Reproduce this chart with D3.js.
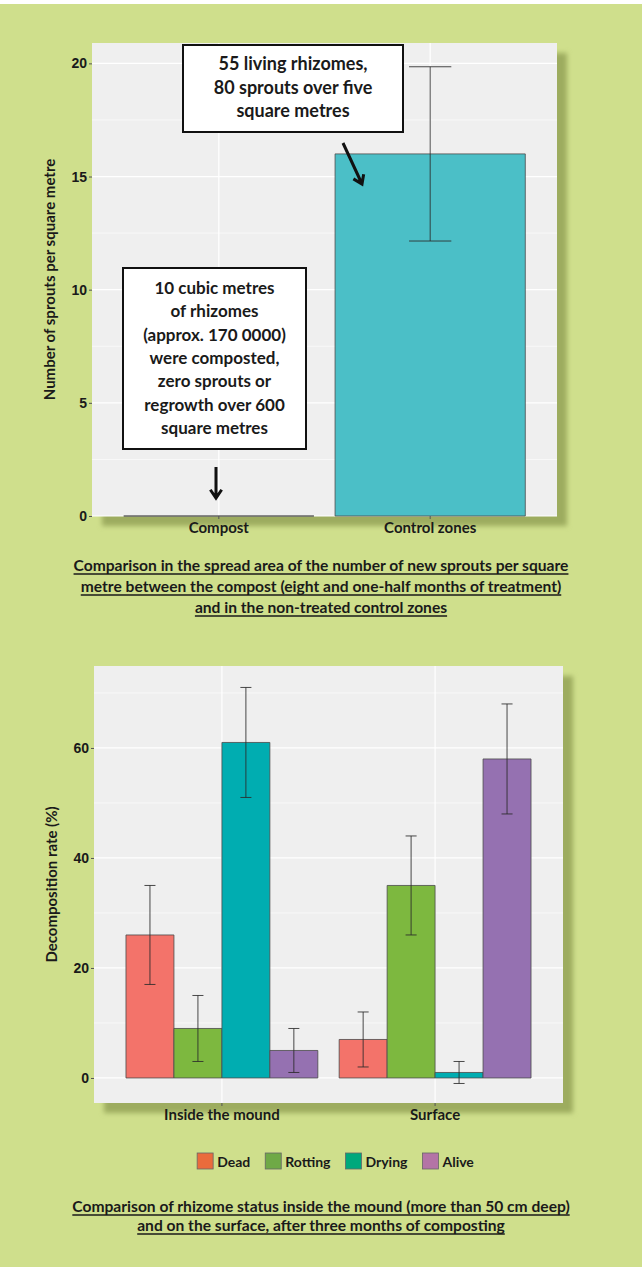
<!DOCTYPE html>
<html>
<head>
<meta charset="utf-8">
<script src="https://cdn.jsdelivr.net/npm/d3@7"></script>
<style>
  html, body { margin: 0; padding: 0; background: #fff; }
  svg { display: block; }
  .tick text { font-family: "Liberation Sans", Arial, sans-serif; font-weight: bold; font-size: 14px; fill: #1a1a1a; }
  .tick line { stroke: #555; }
  .xlab .tick text { font-family: Lato, "Open Sans", sans-serif; font-weight: 700; font-size: 15px; }
  .label { font-family: Lato, "Open Sans", sans-serif; font-weight: 700; fill: #1a1a1a; }
</style>
</head>
<body>
<svg id="chart" width="642" height="1267"></svg>
<script>
// values
var sproutCategories = ['Compost', 'Control zones'];
var sproutMeans = [0, 16];
var sproutLow = [0, 12.15];
var sproutHigh = [0, 19.85];
var sproutTicks = [0, 5, 10, 15, 20];

var statusGroups = ['Inside the mound', 'Surface'];
var statusKeys = ['Dead', 'Rotting', 'Drying', 'Alive'];
var insideMeans = [26, 9, 61, 5];
var insideLow = [17, 3, 51, 1];
var insideHigh = [35, 15, 71, 9];
var surfaceMeans = [7, 35, 1, 58];
var surfaceLow = [2, 26, -1, 48];
var surfaceHigh = [12, 44, 3, 68];
var rateTicks = [0, 20, 40, 60];

var noteControl = ['55 living rhizomes,', '80 sprouts over five', 'square metres'];
var noteCompost = ['10 cubic metres', 'of rhizomes', '(approx. 170 0000)', 'were composted,',
    'zero sprouts or', 'regrowth over 600', 'square metres'];
var captionTop = ['Comparison in the spread area of the number of new sprouts per square',
    'metre between the compost (eight and one-half months of treatment)',
    'and in the non-treated control zones'];
var captionBottom = ['Comparison of rhizome status inside the mound (more than 50 cm deep)',
    'and on the surface, after three months of composting'];

var sproutColors = ['#f3736a', '#4bbfc7'];
var barColors = ['#f3736a', '#7db83f', '#00adb1', '#9571b1'];
var legendColors = ['#ea6b3c', '#6fa946', '#00a87c', '#b474a6'];

var svg = d3.select('#chart');
var defs = svg.append('defs');
defs.append('filter').attr('id', 'soft')
    .attr('x', '-10%').attr('y', '-10%').attr('width', '120%').attr('height', '120%')
    .append('feGaussianBlur').attr('stdDeviation', 2.5);

svg.append('rect').attr('x', 0).attr('y', 4).attr('width', 642).attr('height', 1263)
    .attr('fill', '#cfdf8c');

function panel(box) {
    var g = svg.append('g');
    g.append('rect')
        .attr('x', box.left + 10).attr('y', box.top + 10)
        .attr('width', box.right - box.left).attr('height', box.bottom - box.top)
        .attr('fill', '#9dac5e').attr('filter', 'url(#soft)');
    g.append('rect')
        .attr('x', box.left).attr('y', box.top)
        .attr('width', box.right - box.left).attr('height', box.bottom - box.top)
        .attr('fill', '#efefef');
    return g;
}

function grid(g, box, y, ticks, x) {
    var step = ticks[1] - ticks[0],
        dom = y.domain();
    var minor = d3.range(ticks[0] - step / 2, dom[1], step).filter(function(v) { return v > dom[0]; });
    g.selectAll('line.minor').data(minor).enter().append('line')
        .attr('x1', box.left).attr('x2', box.right)
        .attr('y1', function(d) { return y(d); }).attr('y2', function(d) { return y(d); })
        .attr('stroke', '#fff').attr('stroke-width', 0.6);
    g.selectAll('line.major').data(ticks).enter().append('line')
        .attr('x1', box.left).attr('x2', box.right)
        .attr('y1', function(d) { return y(d); }).attr('y2', function(d) { return y(d); })
        .attr('stroke', '#fff').attr('stroke-width', 1.2);
    g.selectAll('line.vert').data(x.domain()).enter().append('line')
        .attr('x1', function(d) { return x(d) + x.bandwidth() / 2; })
        .attr('x2', function(d) { return x(d) + x.bandwidth() / 2; })
        .attr('y1', box.top).attr('y2', box.bottom)
        .attr('stroke', '#fff').attr('stroke-width', 1.2);
}

function axes(g, box, x, y, ticks) {
    g.append('g').attr('transform', 'translate(' + box.left + ',0)')
        .call(d3.axisLeft(y).tickValues(ticks).tickSize(3).tickPadding(2))
        .call(function(a) { a.select('.domain').remove(); });
    g.append('g').attr('class', 'xlab').attr('transform', 'translate(0,' + box.bottom + ')')
        .call(d3.axisBottom(x).tickSize(3).tickPadding(3))
        .call(function(a) { a.select('.domain').remove(); });
}

function barPath(x, w, y0, y1) {
    var p = d3.path();
    p.rect(x, Math.min(y0, y1), w, Math.abs(y1 - y0));
    return p.toString();
}

function errorBar(g, cx, capW, yLow, yHigh) {
    var p = d3.path();
    p.moveTo(cx - capW / 2, yHigh); p.lineTo(cx + capW / 2, yHigh);
    p.moveTo(cx, yHigh); p.lineTo(cx, yLow);
    p.moveTo(cx - capW / 2, yLow); p.lineTo(cx + capW / 2, yLow);
    g.append('path').attr('d', p.toString())
        .attr('fill', 'none').attr('stroke', '#2a2a2a').attr('stroke-opacity', 0.85).attr('stroke-width', 1);
}

function arrow(g, x1, y1, x2, y2) {
    var a = Math.atan2(y2 - y1, x2 - x1), len = 10, spread = 0.6;
    var p = d3.path();
    p.moveTo(x1, y1); p.lineTo(x2, y2);
    p.moveTo(x2 - len * Math.cos(a - spread), y2 - len * Math.sin(a - spread));
    p.lineTo(x2, y2);
    p.lineTo(x2 - len * Math.cos(a + spread), y2 - len * Math.sin(a + spread));
    g.append('path').attr('d', p.toString()).attr('fill', 'none')
        .attr('stroke', '#111').attr('stroke-width', 3);
}

function note(g, x, y, w, h, lines, firstBase, lead, size) {
    g.append('rect').attr('x', x).attr('y', y).attr('width', w).attr('height', h)
        .attr('fill', '#fff').attr('stroke', '#111').attr('stroke-width', 2);
    g.selectAll(null).data(lines).enter().append('text')
        .attr('class', 'label')
        .attr('x', x + w / 2).attr('y', function(d, i) { return firstBase + i * lead; })
        .attr('text-anchor', 'middle').style('font-size', size + 'px')
        .text(function(d) { return d; });
}

function caption(lines, firstBase, lead) {
    var g = svg.append('g');
    lines.forEach(function(line, i) {
        var t = g.append('text').attr('class', 'label')
            .attr('x', 321).attr('y', firstBase + i * lead)
            .attr('text-anchor', 'middle').style('font-size', '15.6px')
            .text(line);
        var w = t.node().getComputedTextLength();
        g.append('line')
            .attr('x1', 321 - w / 2).attr('x2', 321 + w / 2)
            .attr('y1', firstBase + i * lead + 3).attr('y2', firstBase + i * lead + 3)
            .attr('stroke', '#1a1a1a').attr('stroke-width', 1.4);
    });
}

function yTitle(g, box, text) {
    g.append('text').attr('class', 'label')
        .attr('transform', 'translate(' + (box.left - 37) + ',' + ((box.top + box.bottom) / 2) + ') rotate(-90)')
        .attr('text-anchor', 'middle').style('font-size', '15px')
        .text(text);
}

// ---- top chart: sprouts per square metre
var topBox = {left: 92, top: 43, right: 557, bottom: 516};
var xTop = d3.scaleBand().domain(sproutCategories).range([topBox.left, topBox.right])
    .paddingInner(0.1).paddingOuter(0.15);
var yTop = d3.scaleLinear().domain([0, 20.9]).range([topBox.bottom, topBox.top]);

var gTop = panel(topBox);
grid(gTop, topBox, yTop, sproutTicks, xTop);

sproutCategories.forEach(function(c, i) {
    gTop.append('path')
        .attr('d', barPath(xTop(c), xTop.bandwidth(), yTop(0), yTop(sproutMeans[i])))
        .attr('fill', sproutColors[i]).attr('stroke', '#4a4a4a').attr('stroke-width', 0.8);
    if (sproutHigh[i] > sproutLow[i]) {
        errorBar(gTop, xTop(c) + xTop.bandwidth() / 2, xTop.step() * 0.2, yTop(sproutLow[i]), yTop(sproutHigh[i]));
    }
});
axes(gTop, topBox, xTop, yTop, sproutTicks);
yTitle(gTop, topBox, 'Number of sprouts per square metre');

note(gTop, 183, 45, 220, 87, noteControl, 70, 23.5, 18);
note(gTop, 123, 268, 183, 181, noteCompost, 294, 23.3, 17);
arrow(gTop, 343, 143, 362, 184);
arrow(gTop, 216, 467, 216, 498);

caption(captionTop, 571, 21);

// ---- bottom chart: decomposition rate by status
var botBox = {left: 94, top: 666, right: 563, bottom: 1103};
var xGroup = d3.scaleBand().domain(statusGroups).range([botBox.left, botBox.right])
    .paddingInner(0.1).paddingOuter(0.15);
var xKey = d3.scaleBand().domain(statusKeys).range([0, xGroup.bandwidth()]);
var yBot = d3.scaleLinear().domain([-4.55, 74.9]).range([botBox.bottom, botBox.top]);

var statusRows = [];
statusKeys.forEach(function(k, i) {
    statusRows.push({group: statusGroups[0], key: k, i: i, mean: insideMeans[i], low: insideLow[i], high: insideHigh[i]});
    statusRows.push({group: statusGroups[1], key: k, i: i, mean: surfaceMeans[i], low: surfaceLow[i], high: surfaceHigh[i]});
});

var gBot = panel(botBox);
grid(gBot, botBox, yBot, rateTicks, xGroup);

statusRows.forEach(function(r) {
    var x0 = xGroup(r.group) + xKey(r.key);
    gBot.append('path')
        .attr('d', barPath(x0, xKey.bandwidth(), yBot(0), yBot(r.mean)))
        .attr('fill', barColors[r.i]).attr('stroke', '#4a4a4a').attr('stroke-width', 0.8);
});
statusRows.forEach(function(r) {
    var cx = xGroup(r.group) + xKey(r.key) + xKey.bandwidth() / 2;
    errorBar(gBot, cx, xKey.bandwidth() * 0.23, yBot(r.low), yBot(r.high));
});
axes(gBot, botBox, xGroup, yBot, rateTicks);
yTitle(gBot, botBox, 'Decomposition rate (%)');

// legend, laid out left to right and centred
var legend = svg.append('g');
var lx = 0;
statusKeys.forEach(function(k, i) {
    var item = legend.append('g').attr('transform', 'translate(' + lx + ',0)');
    item.append('rect').attr('x', 0).attr('y', 1153).attr('width', 16).attr('height', 16)
        .attr('fill', legendColors[i]).attr('stroke', '#666').attr('stroke-width', 0.8);
    var t = item.append('text').attr('class', 'label').attr('x', 20).attr('y', 1167)
        .style('font-size', '14px').text(k);
    lx += 20 + t.node().getComputedTextLength() + 15;
});
legend.attr('transform', 'translate(' + (335.5 - (lx - 15) / 2) + ',0)');

caption(captionBottom, 1212, 19);
</script>
</body>
</html>
